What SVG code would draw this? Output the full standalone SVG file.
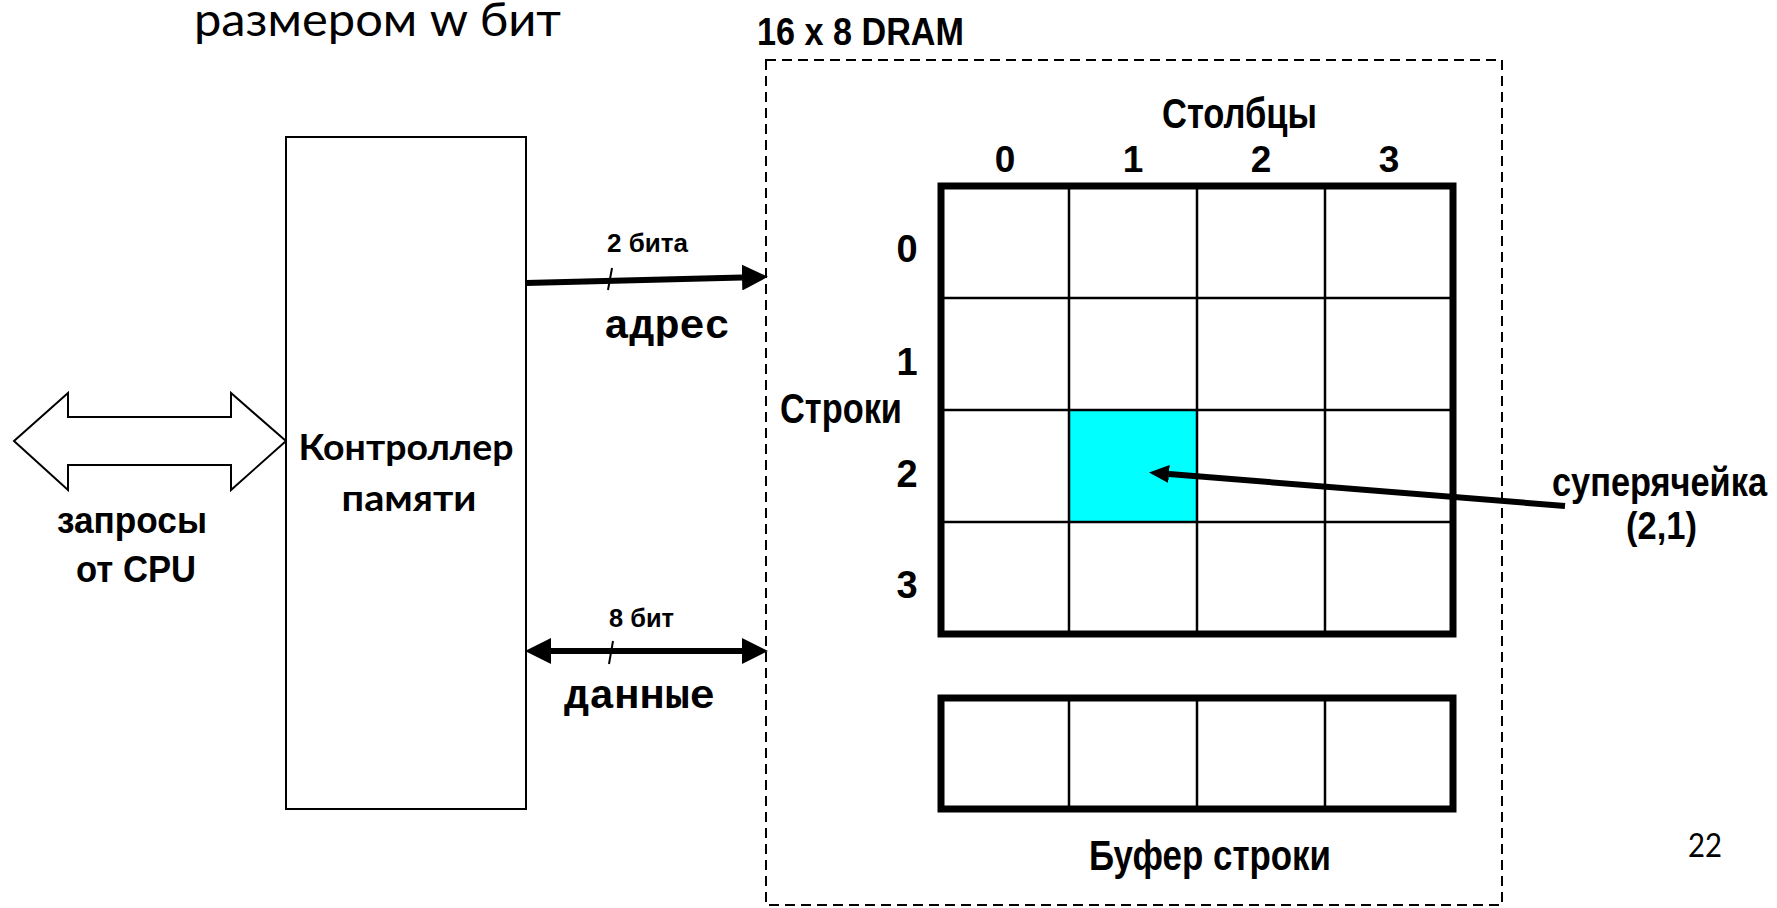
<svg xmlns="http://www.w3.org/2000/svg" width="1777" height="908" viewBox="0 0 1777 908">
<style>
.nb{font-family:"Liberation Sans",Arial,sans-serif;font-weight:bold;fill:#000}
.cal{font-family:Lato,"Open Sans","Noto Sans",sans-serif;fill:#000}
.mono{font-family:"Liberation Mono","Courier New",monospace;font-weight:bold;fill:#000}
.thin{stroke:#000;stroke-width:2;fill:none}
.grid{stroke:#000;stroke-width:2.5;fill:none}
.frame{stroke:#000;stroke-width:7;fill:none}
.bus{stroke:#000;stroke-width:6;fill:none}
</style>
<defs>
<marker id="ah" markerUnits="userSpaceOnUse" markerWidth="26" markerHeight="26" refX="0" refY="12" orient="auto-start-reverse" viewBox="0 0 24 24">
<path d="M0,0 L24,12 L0,24 z" fill="#000"/>
</marker>
<marker id="ahs" markerUnits="userSpaceOnUse" markerWidth="20" markerHeight="18" refX="0" refY="8.5" orient="auto" viewBox="0 0 19 17">
<path d="M0,0 L19,8.5 L0,17 z" fill="#000"/>
</marker>
</defs>
<rect width="1777" height="908" fill="#fff"/>

<text class="cal" x="194" y="36" font-size="47" textLength="367" lengthAdjust="spacingAndGlyphs">размером w бит</text>
<text class="nb" x="757" y="45" font-size="39" textLength="207" lengthAdjust="spacingAndGlyphs">16 x 8 DRAM</text>
<text class="cal" x="1688" y="857" font-size="33" textLength="34" lengthAdjust="spacingAndGlyphs">22</text>

<g id="dram">
<rect x="766" y="60" width="736" height="845" fill="none" stroke="#000" stroke-width="2" stroke-dasharray="10 6"/>
</g>

<g id="cpu-requests">
<polygon class="thin" fill="#fff" points="14,441 68,393 68,417 231,417 231,393 286,441 231,490 231,465 68,465 68,490"/>
<text class="nb" x="132" y="533" font-size="36" text-anchor="middle" textLength="150" lengthAdjust="spacingAndGlyphs">запросы</text>
<text class="nb" x="136" y="582" font-size="36" text-anchor="middle" textLength="120" lengthAdjust="spacingAndGlyphs">от CPU</text>
</g>

<g id="controller">
<rect x="286" y="137" width="240" height="672" fill="#fff" stroke="#000" stroke-width="2"/>
<text class="cal" font-weight="bold" x="406" y="460" font-size="36" text-anchor="middle" textLength="215" lengthAdjust="spacingAndGlyphs">Контроллер</text>
<text class="cal" font-weight="bold" x="409" y="511" font-size="36" text-anchor="middle" textLength="135" lengthAdjust="spacingAndGlyphs">памяти</text>
</g>

<g id="array">
<rect x="1069" y="410" width="128" height="112" fill="#00ffff"/>
<path class="grid" d="M1069,186 V634 M1197,186 V634 M1325,186 V634 M941,298 H1453 M941,410 H1453 M941,522 H1453"/>
<rect class="frame" x="941" y="186" width="512" height="448"/>
<text class="nb" x="1239.5" y="128" font-size="42" text-anchor="middle" textLength="155" lengthAdjust="spacingAndGlyphs">Столбцы</text>
<text class="nb" x="1005" y="172" font-size="37" text-anchor="middle">0</text>
<text class="nb" x="1133" y="172" font-size="37" text-anchor="middle">1</text>
<text class="nb" x="1261" y="172" font-size="37" text-anchor="middle">2</text>
<text class="nb" x="1389" y="172" font-size="37" text-anchor="middle">3</text>
<text class="nb" x="841" y="423" font-size="42" text-anchor="middle" textLength="122" lengthAdjust="spacingAndGlyphs">Строки</text>
<text class="nb" x="907" y="262" font-size="38" text-anchor="middle">0</text>
<text class="nb" x="907" y="375" font-size="38" text-anchor="middle">1</text>
<text class="nb" x="907" y="487" font-size="38" text-anchor="middle">2</text>
<text class="nb" x="907" y="598" font-size="38" text-anchor="middle">3</text>
</g>

<g id="row-buffer">
<path class="grid" d="M1069,698 V809 M1197,698 V809 M1325,698 V809"/>
<rect class="frame" x="941" y="698" width="512" height="111"/>
<text class="nb" x="1210" y="870" font-size="42" text-anchor="middle" textLength="242" lengthAdjust="spacingAndGlyphs">Буфер строки</text>
</g>

<g id="supercell-label">
<text class="nb" x="1659.5" y="496" font-size="41" text-anchor="middle" textLength="215" lengthAdjust="spacingAndGlyphs">суперячейка</text>
<text class="nb" x="1661.5" y="539" font-size="39" text-anchor="middle" textLength="71" lengthAdjust="spacingAndGlyphs">(2,1)</text>
</g>

<g id="connectors">
<path class="bus" d="M526,283 L742,277.5" marker-end="url(#ah)"/>
<line class="thin" x1="612" y1="268" x2="608" y2="290"/>
<text class="nb" x="647.5" y="252" font-size="26" text-anchor="middle" textLength="81" lengthAdjust="spacingAndGlyphs">2 бита</text>
<text class="mono" x="604" y="338" font-size="40" textLength="126" lengthAdjust="spacingAndGlyphs">адрес</text>

<path class="bus" d="M551,651 L742,651" marker-start="url(#ah)" marker-end="url(#ah)"/>
<line class="thin" x1="613" y1="641" x2="609" y2="664"/>
<text class="nb" x="641.5" y="627" font-size="26" text-anchor="middle" textLength="65" lengthAdjust="spacingAndGlyphs">8 бит</text>
<text class="mono" x="564" y="708" font-size="40" textLength="151" lengthAdjust="spacingAndGlyphs">данные</text>

<path class="bus" d="M1565,506 L1169,474" marker-end="url(#ahs)"/>
</g>
</svg>
